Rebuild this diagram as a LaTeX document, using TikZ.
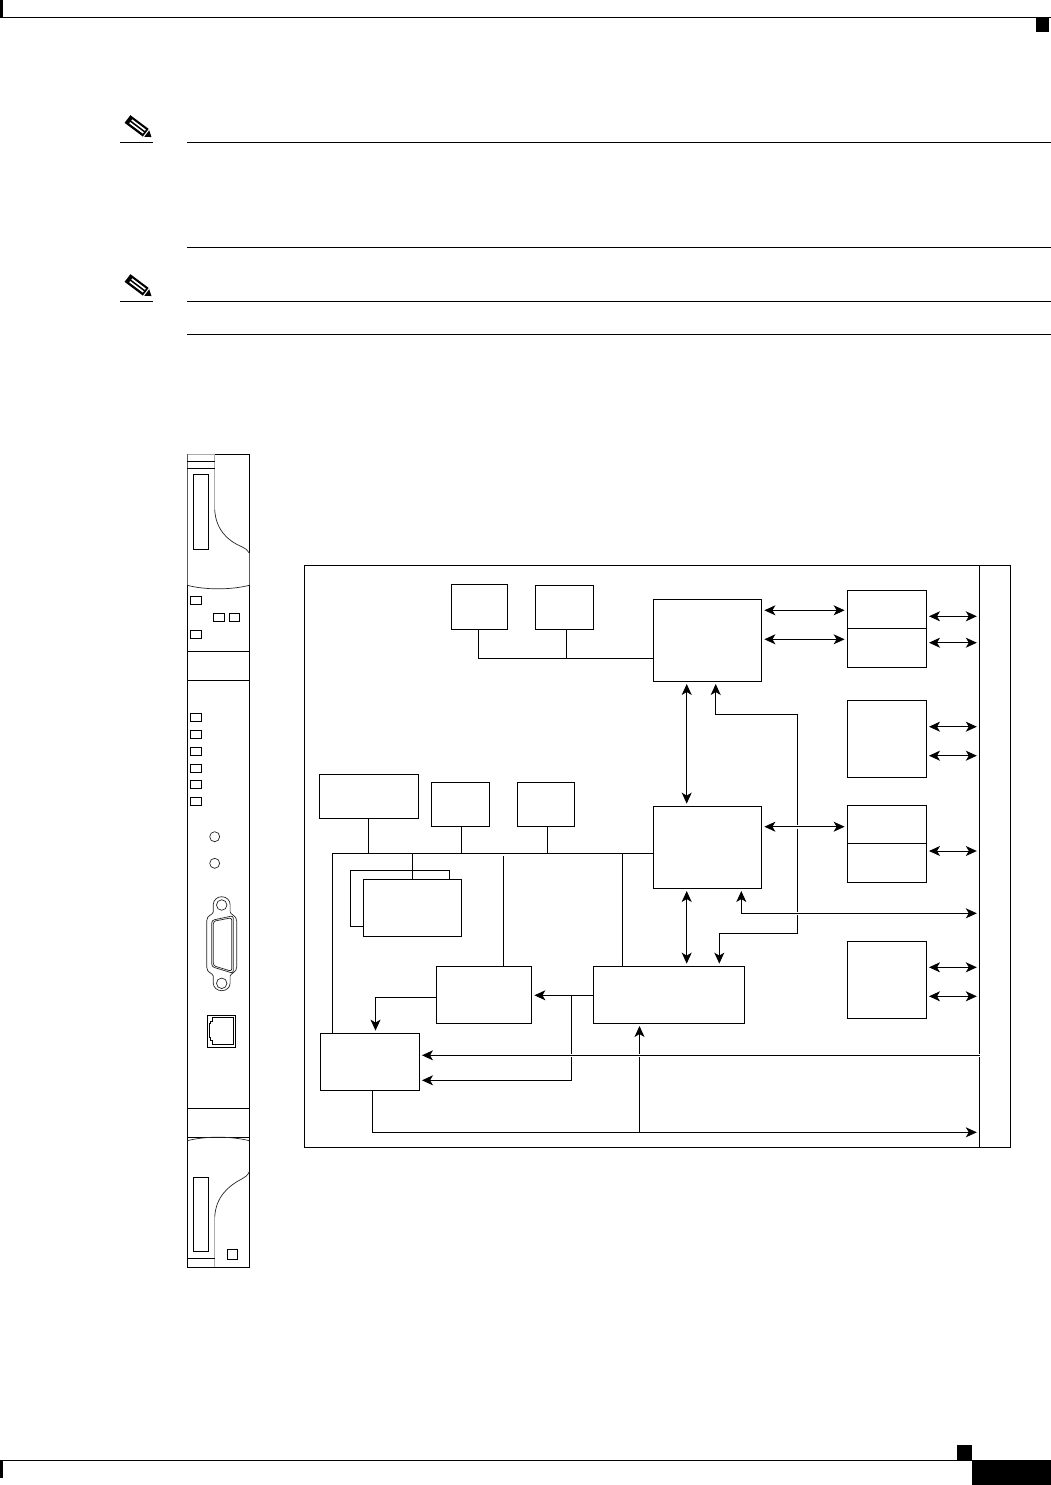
\documentclass[tikz,border=0pt]{standalone}
\usepackage{xcolor}
\usetikzlibrary{positioning, arrows.meta, calc}

\tikzset{
    blocktip/.tip={Stealth[length=11pt, width=10pt, inset=3pt]},
    blockbox/.style n args={2}{rectangle, draw, fill=white, line width=1pt, inner sep=0pt, outer sep=0pt, minimum width=#1, minimum height=#2},
    ledbox/.style={blockbox={11.4pt}{8pt}, line width=0.9pt},
    wire/.style={line width=1pt},
    twoway/.style={wire, blocktip-blocktip, shorten >=2.7pt, shorten <=2.7pt},
    oneway/.style={wire, -blocktip, shorten >=2.7pt},
    crossing/.style={preaction={draw=white, line width=3.6pt, arrows=-}},
    hinge/.style={draw=gray!65, line width=1pt},
    panelside/.style={draw=black!65, line width=1pt},
    fineline/.style={line width=0.7pt, draw=black!85},
    notepencil/.pic={
        \fill[black, rotate=-37] (0,-4.8) -- (23,-4.8) -- (30,0) -- (23,4.8) -- (0,4.8) -- cycle;
        \fill[white, rotate=-37] (4,-2.6) rectangle (21,-1);
        \fill[white, rotate=-37] (4,0.8) rectangle (21,2.4);
        \fill[white, rotate=-37] (23,-4.8) -- (24,-4.8) -- (24,4.8) -- (23,4.8) -- cycle;
    }
}

\begin{document}
\begin{tikzpicture}[x=1pt, y=-1pt]
    \useasboundingbox (0,0) rectangle (1051,1485);

    % page furniture
    \fill[black] (0,0) rectangle (3,17.3);
    \fill[black] (1036,17.3) rectangle (1049,32);
    \fill[black] (0,1460) rectangle (3,1478);
    \fill[black] (957,1445) rectangle (972,1460);
    \fill[black] (972,1460) rectangle (1051,1485);
    \draw[wire] (0,17.3) -- (1051,17.3);
    \draw[wire] (0,1460.5) -- (972,1460.5);

    \draw[wire] (120,142.3) -- (152.5,142.3);
    \draw[wire] (120,301.3) -- (152.5,301.3);
    \draw[wire] (187,142.3) -- (1051,142.3);
    \draw[wire] (187,247) -- (1051,247);
    \draw[wire] (187,301.3) -- (1051,301.3);
    \draw[wire] (187,334.3) -- (1051,334.3);
    \pic at (127.5,119) {notepencil};
    \pic at (127.5,278) {notepencil};

    % front panel
    \draw[wire] (214.7,454.3) -- (249.3,454.3) -- (249.3,553);
    \draw[panelside] (249.3,553) -- (249.3,585.3);
    \draw[hinge] (214.7,454.3) -- (187.3,454.3);
    \draw[panelside] (187.3,454.3) -- (187.3,585.3);
    \draw[wire] (187.3,585.3) -- (187.3,1267) -- (249.3,1267) -- (249.3,1140.7);
    \draw[wire] (249.3,585.3) -- (249.3,1171.7);
    \draw[hinge] (214.7,454.3) -- (214.7,510);
    \draw[fineline] (214.7,510) .. controls (216,530) and (228,541) .. (241.7,546.7) .. controls (245,548.5) and (248,550) .. (249.3,553);
    \draw[wire] (187.3,461.3) -- (214.7,461.3);
    \draw[wire] (187.3,468.3) -- (214.7,468.3);
    \node (upperslot) [blockbox={15pt}{75pt}] at (200.8,511.8) {};
    \draw[fineline] (187.3,585.3) .. controls (205,590) and (231,590) .. (249.3,585.3);

    \node (ledtop) [ledbox] at (196,600.3) {};
    \node (ledmida) [ledbox] at (219,617.7) {};
    \node (ledmidb) [ledbox, minimum width=10.4pt] at (234.5,617.7) {};
    \node (ledlow) [ledbox] at (196,634.3) {};
    \draw[wire] (187.3,651.3) -- (249.3,651.3);
    \draw[wire] (187.3,680.3) -- (249.3,680.3);

    \foreach \ypos [count=\n] in {717.3,734.3,751.3,768.3,784.8,801.3}
        \node (led\n) [ledbox] at (196,\ypos) {};
    \node (holea) [circle, draw, fineline, inner sep=0pt, minimum size=10pt] at (214.7,836.7) {};
    \node (holeb) [circle, draw, fineline, inner sep=0pt, minimum size=10pt] at (214.7,863.3) {};

    \draw[fineline] (213.3,912) -- (213.3,904.5) arc (180:0:8.4 and -7.8) -- (230.1,912)
        .. controls (230.5,915) and (236.7,915) .. (236.7,921) -- (236.7,967)
        .. controls (236.7,973) and (230.5,973) .. (230.1,976) -- (230.1,983.3) arc (0:-180:8.4 and -7.4) -- (213.3,976)
        .. controls (212.9,973) and (206.7,973) .. (206.7,967) -- (206.7,921)
        .. controls (206.7,915) and (212.9,915) .. (213.3,912) -- cycle;
    \draw[fineline, rounded corners=2.5pt] (211.8,920.3) -- (233.3,915.7) -- (233.3,973.3) -- (211.8,966.7) -- cycle;
    \draw[fineline, rounded corners=2.5pt] (213.3,921.3) -- (231.8,917.7) -- (231.8,971.3) -- (213.3,965.7) -- cycle;
    \node (screwa) [circle, draw, fineline, inner sep=0pt, minimum size=10.5pt] at (221.7,905) {};
    \node (screwb) [circle, draw, fineline, inner sep=0pt, minimum size=10.5pt] at (221.7,983.3) {};

    \node (jack) [blockbox={28.4pt}{32pt}] at (221.5,1031.3) {};
    \draw[wire] (233.7,1017.3) -- (212.7,1017.3) -- (212.7,1021.7) -- (210.3,1021.7) -- (210.3,1023.3) -- (209.3,1023.3)
        -- (209.3,1037.3) -- (210.7,1037.3) -- (210.7,1040) -- (212.7,1040) -- (212.7,1044) -- (233.7,1044) -- cycle;

    \draw[wire] (187.3,1108.3) -- (249.3,1108.3);
    \draw[wire] (187.3,1137.3) -- (249.3,1137.3);
    \draw[fineline] (187.3,1140.7) .. controls (205,1136) and (231,1136) .. (249.3,1140.7);
    \draw[hinge] (214.7,1267) -- (214.7,1216.7);
    \draw[fineline] (214.7,1216.7) .. controls (216,1197) and (228,1186) .. (241.7,1179) .. controls (245,1177.5) and (248,1175) .. (249.3,1171.7);
    \node (lowerslot) [blockbox={15pt}{74pt}] at (200.8,1214.3) {};
    \draw[wire] (187.3,1258.3) -- (214.7,1258.3);
    \node (ledfoot) [ledbox, minimum width=10.4pt, minimum height=10.4pt] at (232.5,1254.5) {};

    % board
    \node (board) [blockbox={706pt}{581.3pt}] at (657.5,856.6) {};
    \node (bar) [blockbox={31pt}{581.3pt}] at (995,856.6) {};

    \node (tempa) [blockbox={56pt}{45.4pt}] at (479.3,607) {};
    \node (tempb) [blockbox={58.4pt}{44pt}] at (564.5,607.3) {};
    \node (cpuup) [blockbox={108.4pt}{82pt}] at (707.5,640.3) {};
    \node (cpudown) [blockbox={108.4pt}{82pt}] at (707.5,847.3) {};

    \node (portupa) [blockbox={79pt}{38pt}] at (886.8,609.3) {};
    \node (portupb) [blockbox={79pt}{39pt}] at (886.8,647.8) {};
    \node (portmid) [blockbox={79pt}{77pt}] at (886.8,738.8) {};
    \node (portlowa) [blockbox={79pt}{38pt}] at (886.8,824.3) {};
    \node (portlowb) [blockbox={79pt}{39pt}] at (886.8,862.8) {};
    \node (portfoot) [blockbox={79pt}{77pt}] at (886.8,979.8) {};

    \node (memwide) [blockbox={99pt}{44pt}] at (368.8,796.3) {};
    \node (memb) [blockbox={58.4pt}{44pt}] at (460.5,804.3) {};
    \node (memc) [blockbox={57.4pt}{44pt}] at (546,804.3) {};
    \node (cardback) [blockbox={99pt}{56pt}] at (399.8,898.3) {};
    \node (cardfront) [blockbox={98.4pt}{57pt}] at (412.5,907.8) {};
    \node (bridge) [blockbox={95.4pt}{57pt}] at (484,994.8) {};
    \node (engine) [blockbox={151pt}{57pt}] at (668.8,994.8) {};
    \node (mgmt) [blockbox={99pt}{57pt}] at (369.8,1061.8) {};

    \coordinate (lowbus) at (332.3,853.3);
    \coordinate (upbus) at (478.3,658.3);
    \coordinate (riserup) at (797.3,714.3);
    \coordinate (riserdown) at (797.3,933.3);
    \coordinate (fork) at (571.5,995.3);
    \coordinate (tap) at (639.5,1132.3);

    \draw[wire] ([xshift=-1pt]tempa.south) |- (cpuup.west |- upbus);
    \draw[wire] ([xshift=1.8pt]tempb.south) -- ([xshift=1.8pt]tempb.south |- upbus);

    \draw[wire] (cpudown.west |- lowbus) -- (lowbus) -- (lowbus |- mgmt.north);
    \draw[wire] (memwide.south) -- (memwide.south |- lowbus);
    \draw[wire] ([xshift=1pt]memb.south) -- ([xshift=1pt]memb.south |- lowbus);
    \draw[wire] ([xshift=1.5pt]memc.south) -- ([xshift=1.5pt]memc.south |- lowbus);
    \draw[wire] (cardfront.north) -- (cardfront.north |- lowbus);
    \draw[wire] ([xshift=19.5pt]bridge.north) -- ++(0,-110.3);
    \draw[wire] ([xshift=-46.3pt]engine.north) -- ([xshift=-46.3pt]engine.north |- lowbus);

    \draw[twoway] ([xshift=-20.8pt]cpuup.south) -- ([xshift=-20.8pt]cpudown.north);
    \draw[twoway] ([xshift=-20.8pt]cpudown.south) -- ([xshift=-20.8pt]cpudown.south |- engine.north);
    \draw[twoway] ([xshift=8.2pt]cpuup.south) |- (riserup) -- (riserdown) -| ([xshift=50.5pt]engine.north);

    \draw[twoway] (cpuup.east |- 0,610.3) -- (portupa.west |- 0,610.3);
    \draw[twoway] (cpuup.east |- 0,639.3) -- (portupb.west |- 0,639.3);
    \draw[twoway, crossing] (cpudown.east |- 0,826.7) -- (portlowa.west |- 0,826.7);
    \draw[twoway, crossing] ([xshift=33.8pt]cpudown.south) |- (bar.west |- 0,913.3);

    \draw[twoway] (portupa.east |- 0,616.3) -- (bar.west |- 0,616.3);
    \draw[twoway] (portupb.east |- 0,642.7) -- (bar.west |- 0,642.7);
    \draw[twoway] (portmid.east |- 0,726.7) -- (bar.west |- 0,726.7);
    \draw[twoway] (portmid.east |- 0,755.7) -- (bar.west |- 0,755.7);
    \draw[twoway] (portlowb.east |- 0,851) -- (bar.west |- 0,851);
    \draw[twoway] (portfoot.east |- 0,967.3) -- (bar.west |- 0,967.3);
    \draw[twoway] (portfoot.east |- 0,996.3) -- (bar.west |- 0,996.3);

    \draw[oneway] (engine.west |- fork) -- (bridge.east |- fork);
    \draw[oneway] (fork) |- (mgmt.east |- 0,1080.3);
    \draw[oneway] (bridge.west |- 0,997.5) -| ([xshift=5.7pt]mgmt.north);
    \draw[oneway] ([xshift=2.7pt]mgmt.south) |- (bar.west |- tap);
    \draw[oneway] (tap) -- (tap |- engine.south);
    \draw[oneway, crossing] (bar.west |- 0,1055.3) -- (mgmt.east |- 0,1055.3);
\end{tikzpicture}
\end{document}
